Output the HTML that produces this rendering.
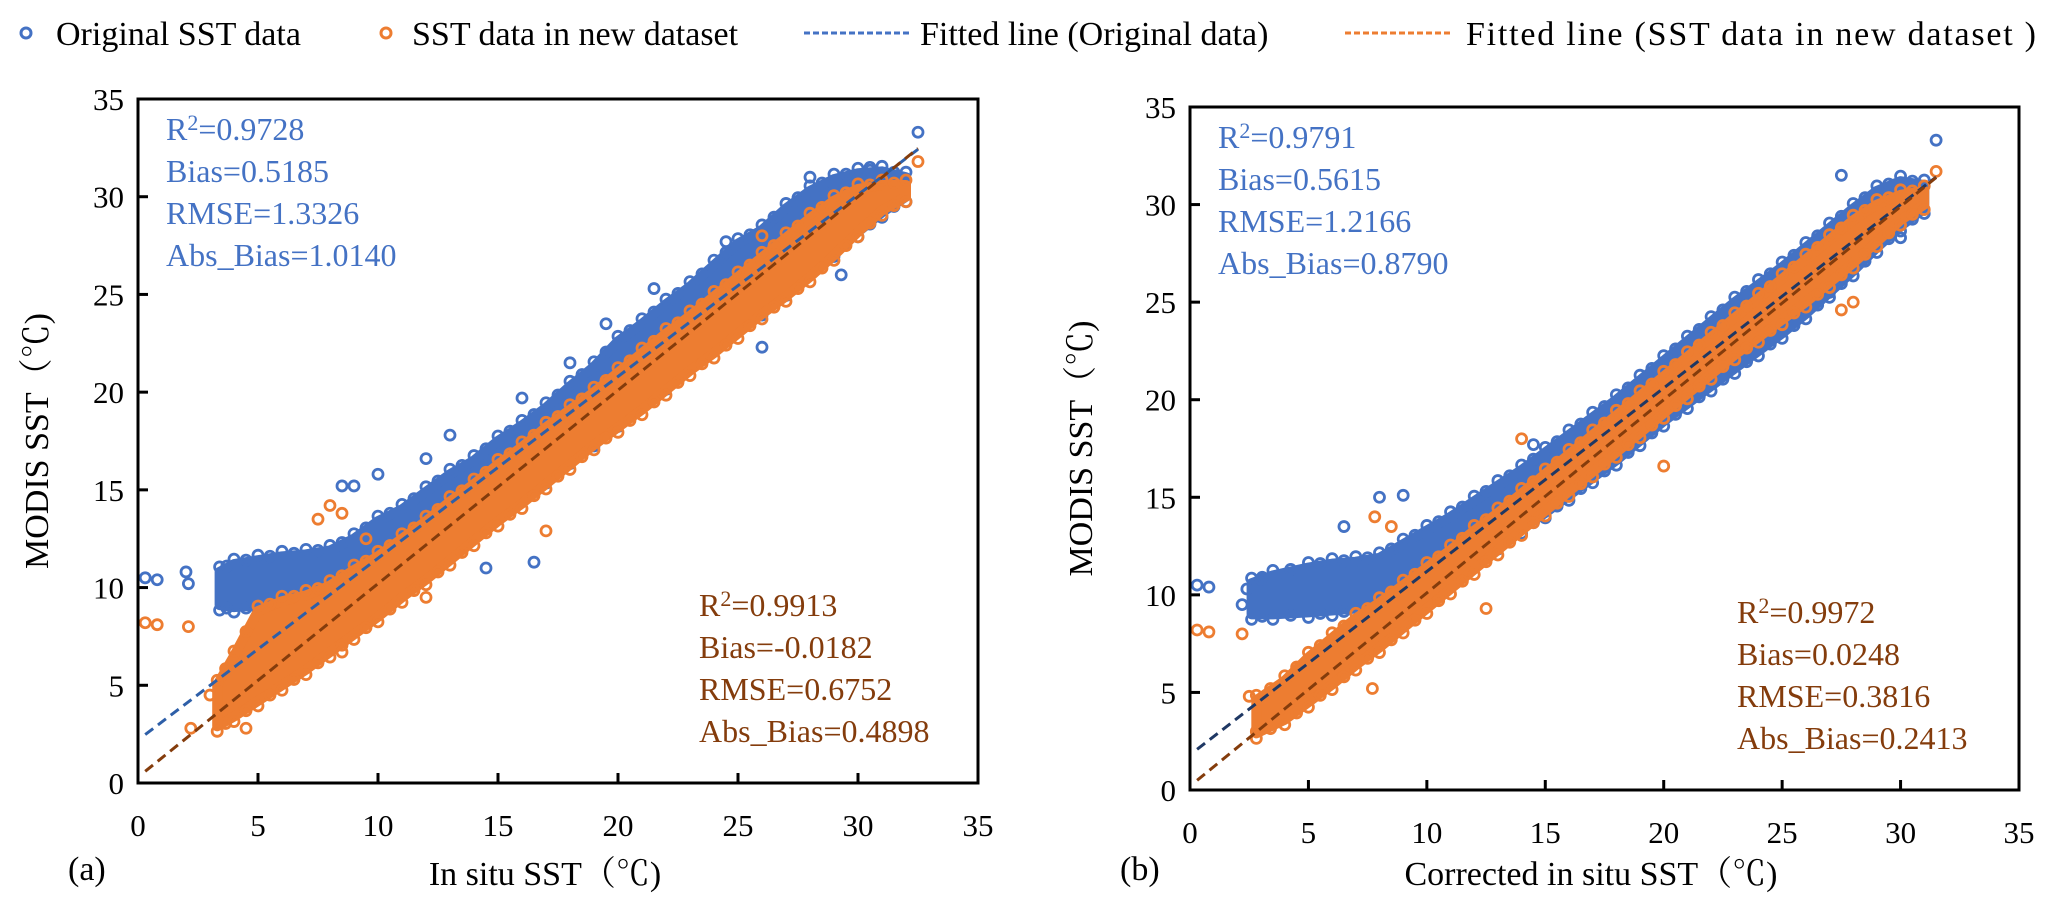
<!DOCTYPE html>
<html><head><meta charset="utf-8"><style>
html,body{margin:0;padding:0;background:#fff;}
svg{display:block;font-family:"Liberation Serif","Noto Serif CJK SC",serif;}
</style></head><body>
<svg id="chart" width="2067" height="911" viewBox="0 0 2067 911" xmlns="http://www.w3.org/2000/svg">
<g font-size="34">
  <g><circle cx="26" cy="33" r="5" fill="none" stroke="#4472c4" stroke-width="3"/><text x="56" y="45">Original SST data</text></g>
  <g><circle cx="386" cy="33" r="5" fill="none" stroke="#ed7d31" stroke-width="3"/><text x="412" y="45">SST data in new dataset</text></g>
  <g><line x1="804" y1="33" x2="912" y2="33" stroke="#4472c4" stroke-width="3" stroke-dasharray="6,3"/><text x="920" y="45">Fitted line (Original  data)</text></g>
  <g><line x1="1345" y1="33" x2="1453" y2="33" stroke="#ed7d31" stroke-width="3" stroke-dasharray="6,3"/><text x="1466" y="45" textLength="570">Fitted line (SST data in new dataset )</text></g>
</g>
</svg>
<script>
// ---- data (values in °C) ----
const ticks = [0,5,10,15,20,25,30,35];
const tickLabels = ["0","5","10","15","20","25","30","35"];
// Panel (a) dense band envelopes
const aBlueX  = [3.4,4,5,6,7,8,9,10,11,12,13,14,15,16,17,18,19,20,21,22,23,24,25,26,27,28,29,30,31,32];
const aBlueLo = [9.1,9.0,9.1,9.2,9.3,9.4,9.7,10.1,10.8,11.6,12.3,13.0,13.8,14.7,15.6,16.6,17.5,18.5,19.5,20.4,21.5,22.5,23.4,24.2,25.2,26.3,27.2,28.2,29.2,30.0];
const aBlueHi = [10.8,11.2,11.4,11.6,11.7,11.9,12.5,13.4,14.0,14.9,15.8,16.5,17.5,18.3,19.2,20.3,21.3,22.6,23.5,24.5,25.4,26.5,27.6,28.3,29.4,30.3,30.9,31.2,31.3,31.0];
const aOrX  = [3.3,4,5,6,7,8,9,10,11,12,13,14,15,16,17,18,19,20,21,22,23,24,25,26,27,28,29,30,31,32];
const aOrLo = [2.9,3.4,4.2,5.0,5.8,6.7,7.6,8.5,9.5,10.4,11.4,12.4,13.4,14.3,15.3,16.3,17.3,18.2,19.1,20.1,21.1,22.0,23.0,24.0,24.9,25.9,27.0,28.2,29.3,30.0];
const aOrHi = [5.0,6.5,8.8,9.3,9.6,10.1,10.9,11.6,12.5,13.4,14.4,15.3,16.3,17.2,18.2,19.1,20.0,21.0,22.0,23.0,23.9,24.9,25.9,26.9,27.9,28.9,29.8,30.4,30.6,30.6];
const aBlueOutX = [0.3,0.8,2.0,2.1,8.5,9.0,10.0,12.0,13.0,16.0,18.0,19.5,21.5,24.5,26.0,29.3,28.0,32.5,16.5,14.5,30.5];
const aBlueOutY = [10.5,10.4,10.8,10.2,15.2,15.2,15.8,16.6,17.8,19.7,21.5,23.5,25.3,27.7,22.3,26.0,31.0,33.3,11.3,11.0,31.5];
const aOrOutX = [0.3,0.8,2.1,2.2,7.5,8.0,8.5,17.0,12.0,8.5,4.5,32.5,26.0,9.5,3.0];
const aOrOutY = [8.2,8.1,8.0,2.8,13.5,14.2,13.8,12.9,9.5,6.7,2.8,31.8,28.0,12.5,4.5];
// Panel (b) dense band envelopes
const bBlueX  = [2.6,3.5,5,6,7,8,9,10,11,12,13,14,15,16,17,18,19,20,21,22,23,24,25,26,27,28,29,30,31];
const bBlueLo = [9.0,9.0,9.1,9.2,9.3,9.4,9.8,10.3,11.0,11.8,12.6,13.4,14.2,15.1,16.0,16.9,17.9,18.9,19.8,20.7,21.6,22.5,23.4,24.4,25.5,26.6,27.8,28.9,29.8];
const bBlueHi = [10.6,11.0,11.4,11.6,11.7,11.9,12.6,13.3,14.0,14.8,15.6,16.4,17.3,18.2,19.1,20.0,21.0,22.0,23.0,24.0,25.0,25.9,26.8,27.8,28.8,29.8,30.7,31.2,31.0];
const bOrX  = [2.8,4,5,6,7,8,9,10,11,12,13,14,15,16,17,18,19,20,21,22,23,24,25,26,27,28,29,30,31];
const bOrLo = [2.9,3.6,4.5,5.4,6.4,7.3,8.3,9.3,10.3,11.3,12.3,13.3,14.3,15.3,16.3,17.3,18.3,19.3,20.3,21.3,22.3,23.2,24.1,25.0,26.0,27.0,28.1,29.2,30.0];
const bOrHi = [4.6,5.6,6.8,7.8,8.8,9.6,10.5,11.4,12.3,13.3,14.2,15.2,16.2,17.2,18.2,19.2,20.2,21.2,22.2,23.2,24.2,25.2,26.2,27.2,28.2,29.2,30.0,30.5,30.7];
const bBlueOutX = [0.3,0.8,2.2,2.4,3.0,6.5,8.0,9.0,14.5,27.5,31.5,30.0,27.0,9.5,12.5];
const bBlueOutY = [10.5,10.4,9.5,10.3,10.8,13.5,15.0,15.1,17.7,31.5,33.3,28.3,25.5,9.4,12.0];
const bOrOutX = [0.3,0.8,2.2,2.5,2.8,7.8,8.5,14.0,28.0,27.5,31.5,12.5,7.7,20.0];
const bOrOutY = [8.2,8.1,8.0,4.8,3.0,14.0,13.5,18.0,25.0,24.6,31.7,9.3,5.2,16.6];
// fitted lines: [x start, x end], slope, intercept
const aFitBlue = [0.3,32.5], aFitBlueSlope = 0.93, aFitBlueInt = 2.2;
const aFitOr = [0.3,32.5], aFitOrSlope = 0.99, aFitOrInt = 0.3;
const bFitBlue = [0.3,31.5], bFitBlueSlope = 0.94, bFitBlueInt = 1.8;
const bFitOr = [0.3,31.5], bFitOrSlope = 0.99, bFitOrInt = 0.2;
const aStatsBlue = ["=0.9728","Bias=0.5185","RMSE=1.3326","Abs_Bias=1.0140"];
const aStatsOr = ["=0.9913","Bias=-0.0182","RMSE=0.6752","Abs_Bias=0.4898"];
const bStatsBlue = ["=0.9791","Bias=0.5615","RMSE=1.2166","Abs_Bias=0.8790"];
const bStatsOr = ["=0.9972","Bias=0.0248","RMSE=0.3816","Abs_Bias=0.2413"];

const NS = "http://www.w3.org/2000/svg";
const svg = document.getElementById('chart');
const BLUE = "#4472c4", OR = "#ed7d31";
function mk(tag, attrs, parent){const e=document.createElementNS(NS,tag);for(const k in attrs)e.setAttribute(k,attrs[k]);parent.appendChild(e);return e;}

function panel(p){
  const g = mk('g',{},svg);
  
  
  const sx = v => p.x0 + (v/35)*(p.x1-p.x0);
  const sy = v => p.y0 - (v/35)*(p.y0-p.y1);
  function ring(x, y, col, nm){
    const c = mk('circle',{cx:x,cy:y,r:5,fill:'none',stroke:col,'stroke-width':2.8},g);
    
    
  }
  function band(xs, lo, hi, col, nm){
    let pts=[];
    for(let i=0;i<xs.length;i++) pts.push(sx(xs[i])+','+sy(hi[i]));
    for(let i=xs.length-1;i>=0;i--) pts.push(sx(xs[i])+','+sy(lo[i]));
    const e = mk('polygon',{points:pts.join(' '),fill:col,stroke:col,'stroke-width':10,'stroke-linejoin':'round'},g);
    
    
    // edge rings for scatter texture
    for(let i=0;i<xs.length;i++){
      ring(sx(xs[i]), sy(hi[i])-5, col, nm+'-edge-point');
      ring(sx(xs[i]), sy(lo[i])+5, col, nm+'-edge-point');
      if(i<xs.length-1){
        ring((sx(xs[i])+sx(xs[i+1]))/2, (sy(hi[i])+sy(hi[i+1]))/2-2, col, nm+'-edge-point');
        ring((sx(xs[i])+sx(xs[i+1]))/2, (sy(lo[i])+sy(lo[i+1]))/2+2, col, nm+'-edge-point');
      }
    }
  }
  function pts(xs, ys, col, nm){
    for(let i=0;i<xs.length;i++) ring(sx(xs[i]), sy(ys[i]), col, nm);
  }
  function fit(rng, m, b, col, nm){
    const l = mk('line',{x1:sx(rng[0]),y1:sy(m*rng[0]+b),x2:sx(rng[1]),y2:sy(m*rng[1]+b),stroke:col,'stroke-width':3,'stroke-dasharray':'10,6'},g);
    
    
  }
  band(p.bX,p.bLo,p.bHi,BLUE,'original-data-band');
  pts(p.bOX,p.bOY,BLUE,'original-data-point');
  band(p.oX,p.oLo,p.oHi,OR,'new-dataset-band');
  pts(p.oOX,p.oOY,OR,'new-dataset-point');
  fit(p.fb,p.fbm,p.fbb,p.fbCol,'fitted-line-original');
  fit(p.fo,p.fom,p.fob,'#843c0c','fitted-line-new-dataset');
  const fr = mk('rect',{x:p.x0,y:p.y1,width:p.x1-p.x0,height:p.y0-p.y1,fill:'none',stroke:'#000','stroke-width':3},g);
  
  
  for(let i=0;i<ticks.length;i++){
    const v = ticks[i];
    if(v>0 && v<35){
      mk('line',{x1:sx(v),y1:p.y0,x2:sx(v),y2:p.y0-10,stroke:'#000','stroke-width':3},g);
      mk('line',{x1:p.x0,y1:sy(v),x2:p.x0+10,y2:sy(v),stroke:'#000','stroke-width':3},g);
    }
    const tx = mk('text',{x:sx(v),y:p.y0+53,'font-size':31,'text-anchor':'middle'},g);
    tx.textContent = tickLabels[i];
    
    
    const ty = mk('text',{x:p.x0-14,y:sy(v)+11,'font-size':31,'text-anchor':'end'},g);
    ty.textContent = tickLabels[i];
    
    
  }
  const xt = mk('text',{x:p.xtX,y:885,'font-size':34,'text-anchor':'middle'},g);
  xt.textContent = p.xTitle;
  
  
  const yt = mk('text',{x:0,y:0,'font-size':34,'text-anchor':'middle',transform:'translate('+p.ytX+','+(p.y1+p.y0)/2+') rotate(-90)'},g);
  yt.textContent = 'MODIS SST（℃)';
  
  
  const pl = mk('text',{x:p.plX,y:880,'font-size':34},g);
  pl.textContent = p.panelLabel;
  
  
  function stats(lines, x, y, col, anchor, nm){
    for(let i=0;i<lines.length;i++){
      const t = mk('text',{x:x,y:y+i*42,'font-size':32,fill:col,'text-anchor':anchor},g);
      
      
      if(i===0){
        const a = mk('tspan',{},t); a.textContent='R';
        const s = mk('tspan',{dy:-10,'font-size':22},t); s.textContent='2';
        const r = mk('tspan',{dy:10},t); r.textContent=lines[0];
      } else t.textContent = lines[i];
    }
  }
  stats(p.sb, p.x0+28, p.y1+41, BLUE, 'start', 'stats-original');
  stats(p.so, p.soX, p.y0-167, '#843c0c', 'start', 'stats-new-dataset');
}

panel({name:'panel-a',x0:138,x1:978,y0:783,y1:99,
  bX:aBlueX,bLo:aBlueLo,bHi:aBlueHi,bOX:aBlueOutX,bOY:aBlueOutY,
  oX:aOrX,oLo:aOrLo,oHi:aOrHi,oOX:aOrOutX,oOY:aOrOutY,
  fb:aFitBlue,fbm:aFitBlueSlope,fbb:aFitBlueInt,fbCol:'#2e5fa8',
  fo:aFitOr,fom:aFitOrSlope,fob:aFitOrInt,
  sb:aStatsBlue,so:aStatsOr,soX:699,
  xTitle:'In situ SST（℃)',xtX:545,ytX:48,plX:68,panelLabel:'(a)'});
panel({name:'panel-b',x0:1190,x1:2019,y0:790,y1:107,
  bX:bBlueX,bLo:bBlueLo,bHi:bBlueHi,bOX:bBlueOutX,bOY:bBlueOutY,
  oX:bOrX,oLo:bOrLo,oHi:bOrHi,oOX:bOrOutX,oOY:bOrOutY,
  fb:bFitBlue,fbm:bFitBlueSlope,fbb:bFitBlueInt,fbCol:'#1f3864',
  fo:bFitOr,fom:bFitOrSlope,fob:bFitOrInt,
  sb:bStatsBlue,so:bStatsOr,soX:1737,
  xTitle:'Corrected in situ SST（℃)',xtX:1591,ytX:1092,plX:1120,panelLabel:'(b)'});
</script>
</body></html>
